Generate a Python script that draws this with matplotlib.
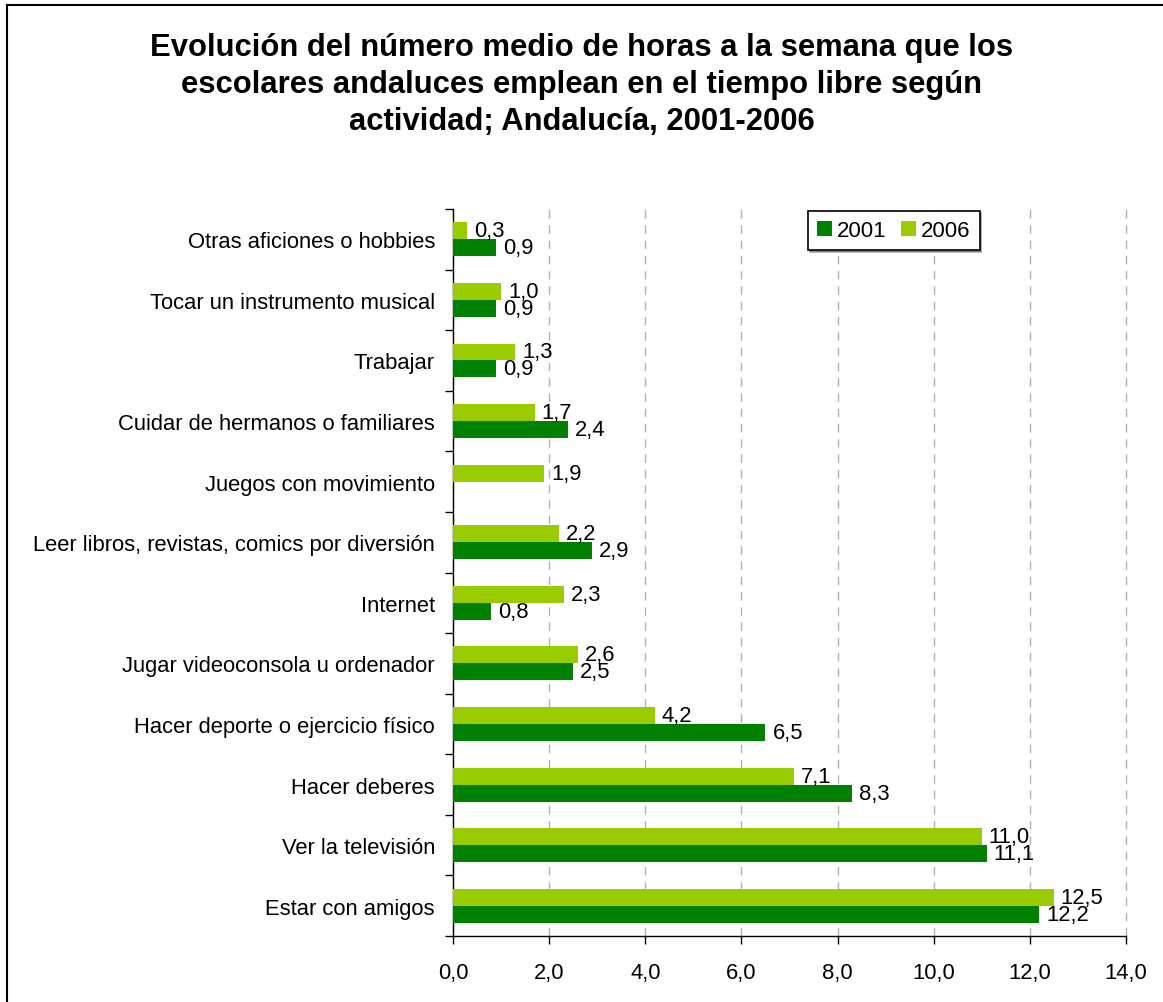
import matplotlib.pyplot as plt
import numpy as np
from matplotlib.lines import Line2D

plt.rcParams["font.family"] = ["Liberation Sans", "DejaVu Sans"]

# categories bottom -> top
categories = [
    "Estar con amigos",
    "Ver la televisión",
    "Hacer deberes",
    "Hacer deporte o ejercicio físico",
    "Jugar videoconsola u ordenador",
    "Internet",
    "Leer libros, revistas, comics por diversión",
    "Juegos con movimiento",
    "Cuidar de hermanos o familiares",
    "Trabajar",
    "Tocar un instrumento musical",
    "Otras aficiones o hobbies",
]
values_2001 = [12.2, 11.1, 8.3, 6.5, 2.5, 0.8, 2.9, np.nan, 2.4, 0.9, 0.9, 0.9]
values_2006 = [12.5, 11.0, 7.1, 4.2, 2.6, 2.3, 2.2, 1.9, 1.7, 1.3, 1.0, 0.3]
x_ticks = [0, 2, 4, 6, 8, 10, 12, 14]

TITLE = ("Evolución del número medio de horas a la semana que los\n"
         "escolares andaluces emplean en el tiempo libre según\n"
         "actividad; Andalucía, 2001-2006")

C2001 = "#008000"
C2006 = "#99CC00"
FS = 15.8


def fmt(v):
    if np.isnan(v):
        return ""
    return f"{v:.1f}".replace(".", ",")


fig = plt.figure(figsize=(11.63, 10.03), dpi=100)
ax = fig.add_axes([0.3895, 0.0658, 0.5787, 0.7248])

y = np.arange(len(categories))
h = 0.28
b06 = ax.barh(y + h / 2, values_2006, height=h, color=C2006, label="2006", zorder=3)
b01 = ax.barh(y - h / 2, values_2001, height=h, color=C2001, label="2001", zorder=3)

ax.bar_label(b06, labels=[fmt(v) for v in values_2006], padding=5, fontsize=FS)
ax.bar_label(b01, labels=[fmt(v) for v in values_2001], padding=5, fontsize=FS)

ax.set_xlim(0, 14)
ax.set_ylim(-0.5, len(categories) - 0.5)
ax.set_xticks(x_ticks)
ax.set_xticklabels([f"{t:.1f}".replace(".", ",") for t in x_ticks], fontsize=FS)
ax.set_yticks(y)
ax.set_yticklabels(categories, fontsize=FS)
ax.set_yticks(np.arange(-0.5, len(categories), 1.0), minor=True)
ax.tick_params(axis="y", which="major", length=0, pad=13)
ax.tick_params(axis="y", which="minor", length=6, width=1.0)
ax.tick_params(axis="x", length=6, width=1.0, pad=13)

ax.grid(axis="x", color="#b0b0b0", linestyle=(0, (6, 5)), linewidth=1.0, zorder=0)
for gl in ax.get_xgridlines():
    gl.set_clip_on(False)
for s in ["top", "right"]:
    ax.spines[s].set_visible(False)
ax.spines["left"].set_linewidth(1.0)
ax.spines["bottom"].set_linewidth(1.0)

handles = [b01, b06]
leg = fig.legend(handles, ["2001", "2006"], loc="upper left",
                 bbox_to_anchor=(0.695, 0.7886), ncol=2, fontsize=16,
                 frameon=True, fancybox=False, edgecolor="black",
                 shadow={"color": "#555555", "ox": 1, "oy": -1.5},
                 handlelength=0.65, handleheight=0.65, handletextpad=0.25,
                 columnspacing=0.65, borderpad=0.4, borderaxespad=0)
leg.get_frame().set_linewidth(1.2)

fig.text(0.5, 0.967, TITLE, ha="center", va="top", fontsize=22.3,
         fontweight="bold", linespacing=1.3)

# outer chart-area frame (left and top edges visible)
fig.add_artist(Line2D([7 / 1163, 7 / 1163], [0, 1 - 6 / 1003],
                      transform=fig.transFigure, color="black", linewidth=1.5))
fig.add_artist(Line2D([7 / 1163, 1], [1 - 6 / 1003, 1 - 6 / 1003],
                      transform=fig.transFigure, color="black", linewidth=1.5))

fig.savefig("out.png", dpi=100)
